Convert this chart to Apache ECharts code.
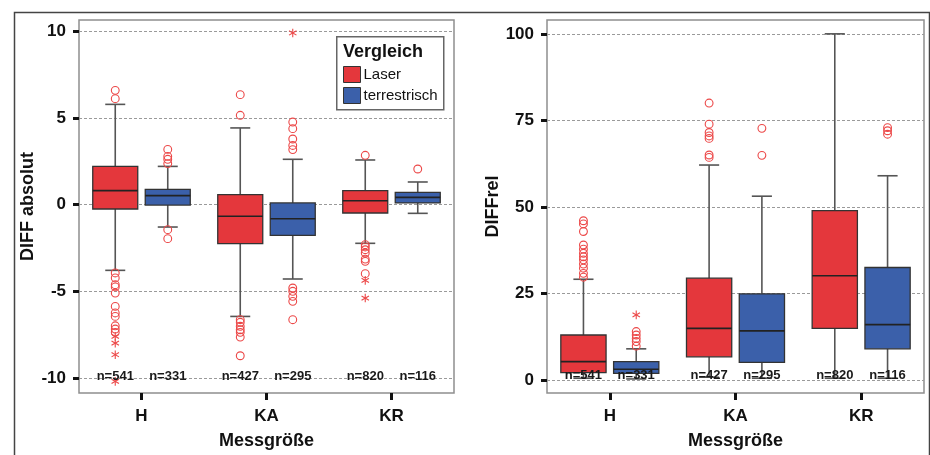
<!DOCTYPE html>
<html>
<head>
<meta charset="utf-8">
<script src="https://cdn.jsdelivr.net/npm/echarts@6/dist/echarts.min.js"></script>
<style>
html,body{margin:0;padding:0;background:#fff;}
#chart{width:930px;height:455px;}
</style>
</head>
<body>
<div id="chart"></div>
<script>
// ---------- data ----------
const categories = ['H', 'KA', 'KR'];
const seriesNames = ['Laser', 'terrestrisch'];
const nLaser = [541, 427, 820];
const nTerr = [331, 295, 116];
const absTicks = [-10, -5, 0, 5, 10];
const relTicks = [0, 25, 50, 75, 100];

// box statistics: [lower whisker, Q1, median, Q3, upper whisker] per category
const absLaserBox = [
  [-3.79, -0.25, 0.81, 2.21, 5.79],
  [-6.45, -2.25, -0.67, 0.58, 4.43],
  [-2.23, -0.48, 0.23, 0.81, 2.58]
];
const absTerrBox = [
  [-1.29, -0.02, 0.52, 0.88, 2.21],
  [-4.29, -1.77, -0.81, 0.10, 2.62],
  [-0.50, 0.10, 0.42, 0.71, 1.31]
];
const relLaserBox = [
  [0.5, 2.1, 5.3, 13.0, 29.1],
  [0.8, 6.7, 14.9, 29.4, 62.1],
  [0.5, 14.9, 30.1, 48.9, 100.0]
];
const relTerrBox = [
  [0.3, 1.9, 3.1, 5.3, 9.0],
  [0.5, 5.1, 14.2, 24.9, 53.1],
  [0.5, 9.0, 16.0, 32.5, 59.0]
];

// outliers (circles) and extreme values (asterisks) per category
const absLaserOut = [
  [6.6, 6.12, -3.94, -4.23, -4.62, -4.75, -5.1, -5.87, -6.25, -6.45, -6.99, -7.18, -7.37],
  [6.35, 5.16, -6.64, -6.79, -7.02, -7.22, -7.37, -7.64, -8.72],
  [2.85, -2.31, -2.44, -2.6, -2.79, -3.14, -3.27, -3.98]
];
const absLaserExt = [[-7.6, -7.99, -8.66, -10.2], [], [-4.37, -5.39]];
const absTerrOut = [
  [3.19, 2.79, 2.62, 2.37, -1.44, -1.96],
  [4.77, 4.39, 3.79, 3.42, 3.18, -4.81, -5.0, -5.29, -5.58, -6.64],
  [2.06]
];
const absTerrExt = [[], [9.91], []];
const relLaserOut = [
  [46.0, 45.1, 42.9, 39.0, 37.8, 36.6, 35.6, 34.7, 33.5, 32.3, 30.8, 29.7],
  [80.0, 73.9, 71.5, 70.5, 69.8, 65.0, 64.3],
  []
];
const relLaserExt = [[], [], []];
const relTerrOut = [
  [14.0, 13.0, 12.0, 11.1, 9.8],
  [72.7, 64.9],
  [72.9, 72.0, 71.0]
];
const relTerrExt = [[18.8], [], []];

// ---------- styling ----------
const RED = '#e4373c';
const BLUE = '#3b60aa';
const OUT = '#ec4848';
const SANS = "'Liberation Sans', Arial, sans-serif";
const OFF = 0.21;      // box offset as fraction of band width
const HALF = 0.18;     // half box width as fraction of band
const CAP = 0.08;      // half whisker cap width

function boxSeries(name, g, stats, off, color) {
  return {
    type: 'custom', name: name, xAxisIndex: g, yAxisIndex: g,
    itemStyle: { color: color },
    encode: { x: 0, y: [1, 2, 3, 4, 5] },
    data: stats.map((s, i) => [i].concat(s)),
    z: 3,
    renderItem: function (params, api) {
      const cat = api.value(0);
      const band = api.size([1, 0])[0];
      const cx = api.coord([cat, 0])[0] + off * band;
      const Y = k => api.coord([cat, api.value(k)])[1];
      const lo = Y(1), q1 = Y(2), med = Y(3), q3 = Y(4), hi = Y(5);
      const hw = band * HALF, cw = band * CAP;
      const ws = { stroke: '#555', lineWidth: 1.6 };
      return {
        type: 'group', children: [
          { type: 'line', shape: { x1: cx, y1: hi, x2: cx, y2: q3 }, style: ws },
          { type: 'line', shape: { x1: cx, y1: q1, x2: cx, y2: lo }, style: ws },
          { type: 'line', shape: { x1: cx - cw, y1: hi, x2: cx + cw, y2: hi }, style: ws },
          { type: 'line', shape: { x1: cx - cw, y1: lo, x2: cx + cw, y2: lo }, style: ws },
          { type: 'rect', shape: { x: cx - hw, y: q3, width: 2 * hw, height: q1 - q3 },
            style: { fill: color, stroke: '#333', lineWidth: 1.3 } },
          { type: 'line', shape: { x1: cx - hw, y1: med, x2: cx + hw, y2: med },
            style: { stroke: '#222', lineWidth: 1.6 } }
        ]
      };
    }
  };
}

function pointSeries(g, lists, off, star) {
  const data = [];
  lists.forEach((arr, i) => arr.forEach(v => data.push([i, v])));
  return {
    type: 'custom', xAxisIndex: g, yAxisIndex: g, z: 4,
    encode: { x: 0, y: 1 },
    data: data,
    renderItem: function (params, api) {
      const cat = api.value(0);
      const band = api.size([1, 0])[0];
      const p = api.coord([cat, api.value(1)]);
      const cx = p[0] + off * band, cy = p[1];
      if (!star) {
        return { type: 'circle', shape: { cx: cx, cy: cy, r: 3.9 },
          style: { fill: 'none', stroke: OUT, lineWidth: 1.1 } };
      }
      const r = 4.3, s = r * 0.866, h = r * 0.5;
      const st = { stroke: OUT, lineWidth: 1.1 };
      return { type: 'group', children: [
        { type: 'line', shape: { x1: cx, y1: cy - r, x2: cx, y2: cy + r }, style: st },
        { type: 'line', shape: { x1: cx - s, y1: cy - h, x2: cx + s, y2: cy + h }, style: st },
        { type: 'line', shape: { x1: cx - s, y1: cy + h, x2: cx + s, y2: cy - h }, style: st }
      ]};
    }
  };
}

function countSeries(g, counts, off, labelY) {
  return {
    type: 'custom', xAxisIndex: g, yAxisIndex: g, z: 6,
    encode: { x: 0, y: 1 },
    data: counts.map((n, i) => [i, labelY, n]),
    renderItem: function (params, api) {
      const cat = api.value(0);
      const band = api.size([1, 0])[0];
      const p = api.coord([cat, api.value(1)]);
      return { type: 'text', x: p[0] + off * band, y: p[1],
        style: { text: 'n=' + api.value(2), align: 'center', verticalAlign: 'middle',
          font: 'bold 13px ' + SANS, fill: '#1a1a1a' } };
    }
  };
}

function xAxis(g) {
  return {
    gridIndex: g, type: 'category', data: categories, boundaryGap: true,
    axisLine: { show: false, onZero: false },
    axisTick: { show: true, alignWithLabel: true, length: 7, lineStyle: { color: '#111', width: 3 } },
    axisLabel: { margin: 15, fontFamily: SANS, fontWeight: 'bold', fontSize: 17, color: '#111' },
    splitLine: { show: false },
    name: 'Messgröße', nameLocation: 'middle', nameGap: 39,
    nameTextStyle: { fontFamily: SANS, fontWeight: 'bold', fontSize: 18, color: '#111' }
  };
}
function yAxis(g, min, max, ticks, name, gap) {
  return {
    gridIndex: g, type: 'value', min: min, max: max,
    axisLine: { show: false, onZero: false },
    axisTick: { show: true, length: 6, lineStyle: { color: '#111', width: 3 }, customValues: ticks },
    axisLabel: { customValues: ticks, margin: 13, fontFamily: SANS, fontWeight: 'bold', fontSize: 17, color: '#111' },
    splitLine: { show: true, lineStyle: { color: '#9a9a9a', width: 1, type: [3, 2] } },
    name: name, nameLocation: 'middle', nameGap: gap, nameRotate: 90,
    nameTextStyle: { fontFamily: SANS, fontWeight: 'bold', fontSize: 18, color: '#111' }
  };
}

const option = {
  backgroundColor: '#fff',
  animation: false,
  grid: [
    { left: 79, top: 20, width: 375, height: 373, show: true, borderColor: '#8f8f8f', borderWidth: 1.5, backgroundColor: '#fff' },
    { left: 547, top: 20, width: 377, height: 373, show: true, borderColor: '#8f8f8f', borderWidth: 1.5, backgroundColor: '#fff' }
  ],
  xAxis: [xAxis(0), xAxis(1)],
  yAxis: [
    yAxis(0, -10.87, 10.66, absTicks, 'DIFF absolut', 27),
    yAxis(1, -3.76, 104, relTicks, 'DIFFrel', 24)
  ],
  legend: {
    data: seriesNames, orient: 'vertical', left: 343, top: 66,
    itemWidth: 17, itemHeight: 16, itemGap: 4, padding: 0, icon: 'rect',
    itemStyle: { borderColor: '#333', borderWidth: 1 },
    textStyle: { fontFamily: SANS, fontSize: 15, color: '#111', padding: [0, 0, 0, -2] },
    selectedMode: false, z: 10
  },
  graphic: [
    { type: 'rect', left: 12, top: 10, shape: { width: 915, height: 470 },
      style: { fill: 'none', stroke: '#444', lineWidth: 1.5 }, z: 0, silent: true },
    { type: 'rect', left: 336, top: 36, shape: { width: 107, height: 73 },
      style: { fill: '#fff', stroke: '#666', lineWidth: 1.5 }, z: 8, silent: true },
    { type: 'text', left: 343, top: 43, z: 9,
      style: { text: 'Vergleich', font: 'bold 18px ' + SANS, fill: '#111' } }
  ],
  series: [
    boxSeries('Laser', 0, absLaserBox, -OFF, RED),
    boxSeries('terrestrisch', 0, absTerrBox, OFF, BLUE),
    boxSeries('Laser', 1, relLaserBox, -OFF, RED),
    boxSeries('terrestrisch', 1, relTerrBox, OFF, BLUE),
    pointSeries(0, absLaserOut, -OFF, false),
    pointSeries(0, absLaserExt, -OFF, true),
    pointSeries(0, absTerrOut, OFF, false),
    pointSeries(0, absTerrExt, OFF, true),
    pointSeries(1, relLaserOut, -OFF, false),
    pointSeries(1, relLaserExt, -OFF, true),
    pointSeries(1, relTerrOut, OFF, false),
    pointSeries(1, relTerrExt, OFF, true),
    countSeries(0, nLaser, -OFF, -9.9),
    countSeries(0, nTerr, OFF, -9.9),
    countSeries(1, nLaser, -OFF, 1.4),
    countSeries(1, nTerr, OFF, 1.4)
  ]
};

const chart = echarts.init(document.getElementById('chart'), null, { renderer: 'canvas' });
chart.setOption(option);
</script>
</body>
</html>
